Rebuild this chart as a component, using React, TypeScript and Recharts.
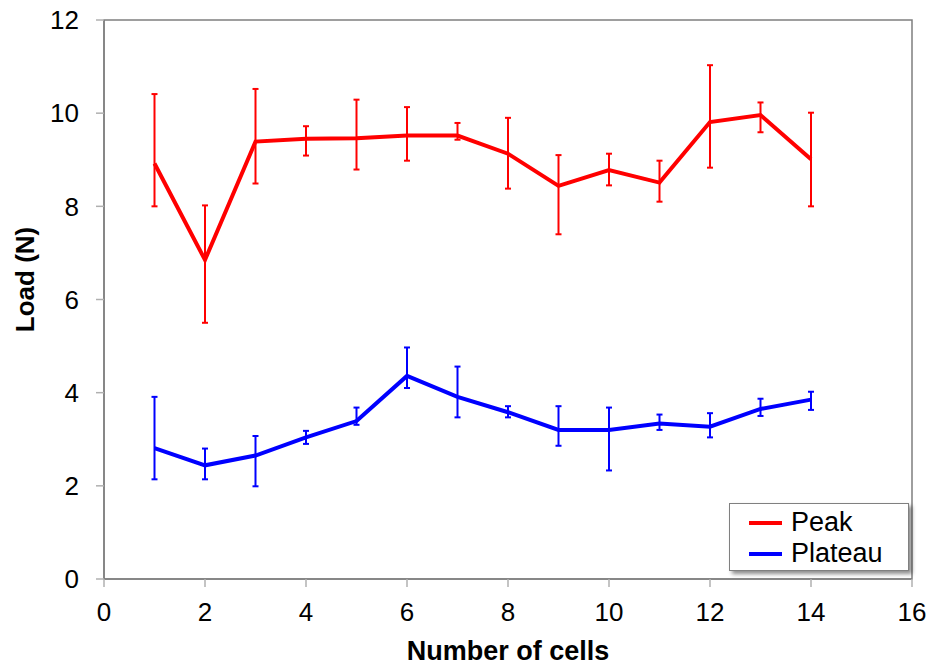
import {
  ComposedChart,
  Line,
  XAxis,
  YAxis,
  ErrorBar,
  ReferenceArea,
  Label,
} from "recharts";

const FONT = '"Liberation Sans", Arial, sans-serif';

const cells = [1, 2, 3, 4, 5, 6, 7, 8, 9, 10, 11, 12, 13, 14];

const peak = [8.92, 6.85, 9.39, 9.45, 9.46, 9.52, 9.52, 9.13, 8.44, 8.78, 8.51, 9.81, 9.96, 9.01];
const peakHigh = [10.41, 8.02, 10.52, 9.72, 10.29, 10.13, 9.79, 9.9, 9.1, 9.13, 8.98, 11.03, 10.23, 10.01];
const peakLow = [8.0, 5.5, 8.49, 9.09, 8.79, 8.98, 9.43, 8.38, 7.4, 8.45, 8.1, 8.83, 9.59, 8.0];

const plateau = [2.81, 2.44, 2.65, 3.04, 3.39, 4.36, 3.91, 3.58, 3.2, 3.2, 3.34, 3.27, 3.65, 3.85];
const plateauHigh = [3.91, 2.8, 3.07, 3.18, 3.68, 4.97, 4.56, 3.71, 3.71, 3.68, 3.53, 3.56, 3.87, 4.02];
const plateauLow = [2.14, 2.14, 1.99, 2.9, 3.31, 4.1, 3.47, 3.47, 2.86, 2.33, 3.2, 3.04, 3.5, 3.63];

const xTicks = [0, 2, 4, 6, 8, 10, 12, 14, 16];
const yTicks = [0, 2, 4, 6, 8, 10, 12];

const series = [
  { key: "peak", name: "Peak", color: "#ff0000" },
  { key: "plateau", name: "Plateau", color: "#0000ff" },
];

const data = cells.map((n, i) => ({
  n,
  peak: peak[i],
  peakErr: [peak[i] - peakLow[i], peakHigh[i] - peak[i]],
  plateau: plateau[i],
  plateauErr: [plateau[i] - plateauLow[i], plateauHigh[i] - plateau[i]],
}));

function LegendBox() {
  return (
    <div
      style={{
        position: "absolute",
        left: 729,
        top: 503,
        boxSizing: "border-box",
        width: 180,
        height: 68,
        border: "1px solid #808080",
        background: "#fff",
        boxShadow: "3px 3px 4px rgba(0,0,0,0.45)",
        padding: "3px 0 0 19px",
        fontFamily: FONT,
        fontSize: 27,
        lineHeight: "31px",
        color: "#000",
      }}
    >
      {series.map((s) => (
        <div key={s.key} style={{ display: "flex", alignItems: "center" }}>
          <span
            style={{
              display: "inline-block",
              width: 33,
              height: 4,
              background: s.color,
              marginRight: 9,
            }}
          />
          {s.name}
        </div>
      ))}
    </div>
  );
}

export default function App() {
  return (
    <div style={{ position: "absolute", left: 0, top: 0, width: 933, height: 665, background: "#fff" }}>
      <ComposedChart
        width={933}
        height={665}
        data={data}
        margin={{ top: 20, right: 21, bottom: 0, left: 0 }}
      >
        <ReferenceArea
          x1={0}
          x2={16}
          y1={0}
          y2={12}
          fill="none"
          stroke="#7f7f7f"
          strokeWidth={1.5}
        />
        <XAxis
          dataKey="n"
          type="number"
          domain={[0, 16]}
          ticks={xTicks}
          height={86}
          tickSize={8}
          tickMargin={16}
          axisLine={{ stroke: "#7f7f7f", strokeWidth: 1.5 }}
          tickLine={{ stroke: "#b0b0b0", strokeWidth: 1.5 }}
          tick={{ fill: "#000", fontFamily: FONT, fontSize: 26 }}
        >
          <Label
            content={({ viewBox }: any) => (
              <text
                x={viewBox.x + viewBox.width / 2}
                y={viewBox.y + 81}
                textAnchor="middle"
                fontFamily={FONT}
                fontWeight="bold"
                fontSize={27}
                fill="#000"
              >
                Number of cells
              </text>
            )}
          />
        </XAxis>
        <YAxis
          type="number"
          domain={[0, 12]}
          ticks={yTicks}
          width={104}
          tickSize={8}
          tickMargin={17}
          axisLine={{ stroke: "#7f7f7f", strokeWidth: 1.5 }}
          tickLine={{ stroke: "#b0b0b0", strokeWidth: 1.5 }}
          tick={{ fill: "#000", fontFamily: FONT, fontSize: 26 }}
        >
          <Label
            content={({ viewBox }: any) => {
              const cx = viewBox.x + 25;
              const cy = viewBox.y + viewBox.height / 2 - 20;
              return (
                <text
                  x={cx}
                  y={cy}
                  transform={`rotate(-90 ${cx} ${cy})`}
                  textAnchor="middle"
                  dominantBaseline="central"
                  fontFamily={FONT}
                  fontWeight="bold"
                  fontSize={26}
                  fill="#000"
                >
                  Load (N)
                </text>
              );
            }}
          />
        </YAxis>
        {series.map((s) => (
          <Line
            key={s.key}
            name={s.name}
            dataKey={s.key}
            stroke={s.color}
            strokeWidth={4}
            dot={false}
            activeDot={false}
            isAnimationActive={false}
          >
            <ErrorBar dataKey={s.key + "Err"} width={3} strokeWidth={2} stroke={s.color} direction="y" />
          </Line>
        ))}
      </ComposedChart>
      <LegendBox />
    </div>
  );
}
